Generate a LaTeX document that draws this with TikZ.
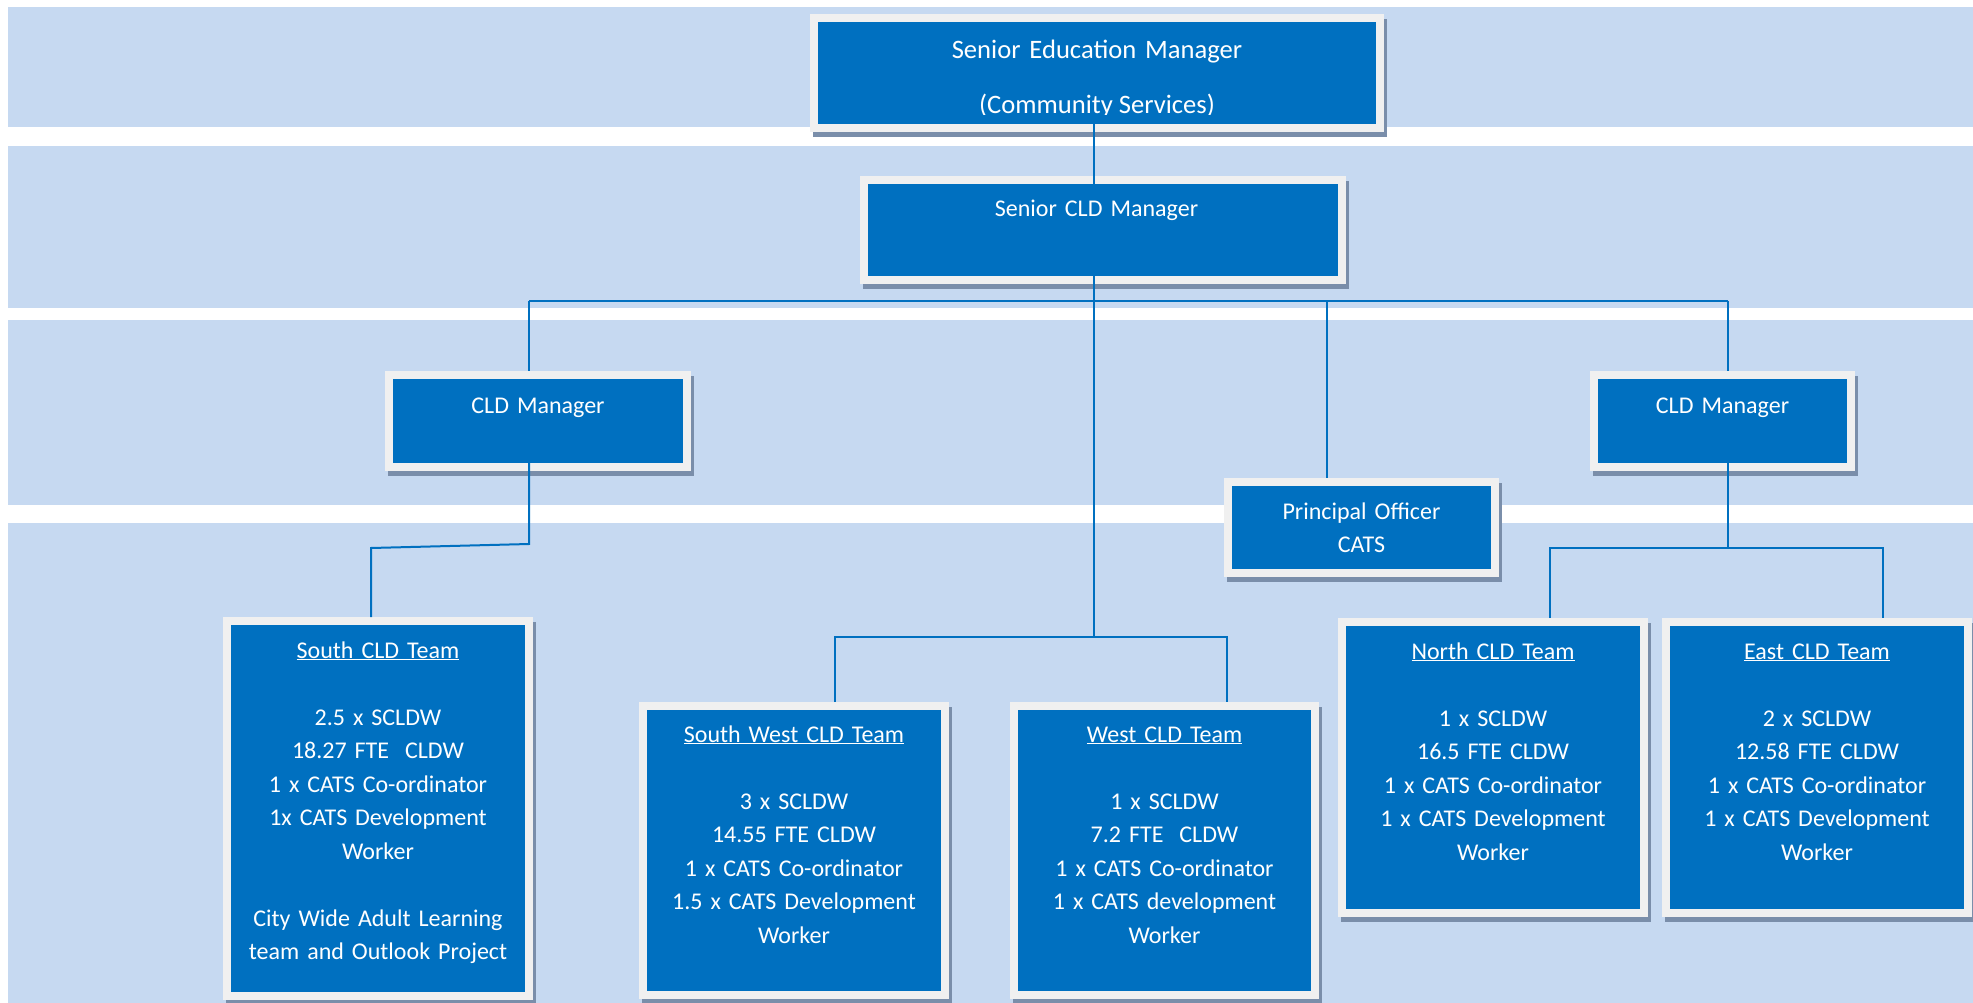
\documentclass[tikz,border=0pt]{standalone}
\usepackage{fontspec}
\setmainfont{Carlito}
\usepackage{xcolor}
\usepackage{tikz}
\usetikzlibrary{shadows}

\definecolor{bandblue}{RGB}{198,217,241}
\definecolor{postblue}{RGB}{0,112,192}
\definecolor{postframe}{RGB}{240,240,240}
\definecolor{postshadow}{RGB}{122,142,170}

\begin{document}
\begin{tikzpicture}[
    x=1pt, y=-1pt,
    band/.style={fill=bandblue},
    post/.style={rectangle, anchor=north west, inner sep=0pt, outer sep=0pt, fill=postframe, text=white, align=center, font=\fontsize{24pt}{33.5pt}\selectfont,
        drop shadow={shadow xshift=3pt, shadow yshift=-5pt, fill=postshadow, opacity=1},
        path picture={\fill[postblue] ([xshift=8pt,yshift=-8pt]path picture bounding box.north west) rectangle ([xshift=-8pt,yshift=8pt]path picture bounding box.south east);}},
    link/.style={draw=postblue, line width=2pt}
]
\useasboundingbox (0,0) rectangle (1973,1003);

% Bands
\fill[band] (8,7) rectangle (1973,127);
\fill[band] (8,146) rectangle (1973,308);
\fill[band] (8,320) rectangle (1973,505);
\fill[band] (8,523) rectangle (1973,1003);

% Nodes
\node[post, font=\fontsize{26.6pt}{33.5pt}\selectfont, text width=574pt, text height=45pt, text depth=73pt] (senior) at (810,14) {Senior Education Manager};
\begin{scope}
\clip (senior.north west) rectangle ([yshift=-101pt]senior.north east);
\node[anchor=base, inner sep=0pt, text=white, font=\fontsize{26.6pt}{33.5pt}\selectfont] (seniorsub) at ([yshift=-99.5pt]senior.north) {(Community Services)};
\end{scope}
\node[post, text width=486pt, text height=41pt, text depth=67pt] (cld) at (860,176) {Senior CLD Manager\hspace*{13pt}};
\node[post, text width=306pt, text height=42pt, text depth=58pt] (mgrleft) at (385,371) {CLD Manager};
\node[post, text width=265pt, text height=42pt, text depth=58pt] (mgrright) at (1590,371) {CLD Manager};
\node[post, text width=275pt, text height=41pt, text depth=58pt] (principal) at (1224,478) {Principal Officer\\CATS};
\node[post, text width=310pt, text height=41pt, text depth=342pt] (south) at (223,617) {\underline{South CLD Team}\\[33.5pt]2.5 x SCLDW\\18.27 FTE\ \ CLDW\\1 x CATS Co-ordinator\\1x CATS Development\\Worker\\[33.5pt]City Wide Adult Learning\\team and Outlook Project};
\node[post, text width=310pt, text height=40pt, text depth=257pt] (southwest) at (639,702) {\underline{South West CLD Team}\\[33.5pt]3 x SCLDW\\14.55 FTE CLDW\\1 x CATS Co-ordinator\\1.5 x CATS Development\\Worker};
\node[post, text width=309pt, text height=40pt, text depth=257pt] (west) at (1010,702) {\underline{West CLD Team}\\[33.5pt]1 x SCLDW\\7.2 FTE\ \ CLDW\\1 x CATS Co-ordinator\\1 x CATS development\\Worker};
\node[post, text width=310pt, text height=41pt, text depth=258pt] (north) at (1338,618) {\underline{North CLD Team}\\[33.5pt]1 x SCLDW\\16.5 FTE CLDW\\1 x CATS Co-ordinator\\1 x CATS Development\\Worker};
\node[post, text width=310pt, text height=41pt, text depth=258pt] (east) at (1662,618) {\underline{East CLD Team}\\[33.5pt]2 x SCLDW\\12.58 FTE CLDW\\1 x CATS Co-ordinator\\1 x CATS Development\\Worker};

% Joints
\coordinate (hub) at (1094,301);
\coordinate (dropml) at (529,301);
\coordinate (droppo) at (1327,301);
\coordinate (dropmr) at (1728,301);
\coordinate (kinkl) at (529,544);
\coordinate (kinks) at (371,548);
\coordinate (hubne) at (1728,548);
\coordinate (dropn) at (1550,548);
\coordinate (drope) at (1883,548);
\coordinate (hubsw) at (1094,637);
\coordinate (dropsw) at (835,637);
\coordinate (dropw) at (1227,637);

% Lines
\draw[link] ([yshift=8pt]senior.south -| hub) -- ([yshift=-8pt]cld.north -| hub);
\draw[link] ([yshift=8pt]cld.south -| hub) -- (hubsw);
\draw[link] (dropml) -- (dropmr);
\draw[link] (dropml) -- (mgrleft.north -| dropml);
\draw[link] (droppo) -- (principal.north -| droppo);
\draw[link] (dropmr) -- (mgrright.north -| dropmr);
\draw[link] ([yshift=8pt]mgrleft.south -| kinkl) -- (kinkl) -- (kinks) -- (south.north -| kinks);
\draw[link] ([yshift=8pt]mgrright.south -| hubne) -- (hubne);
\draw[link] (north.north -| dropn) -- (dropn) -- (drope) -- (east.north -| drope);
\draw[link] (southwest.north -| dropsw) -- (dropsw) -- (dropw) -- (west.north -| dropw);

\end{tikzpicture}
\end{document}
